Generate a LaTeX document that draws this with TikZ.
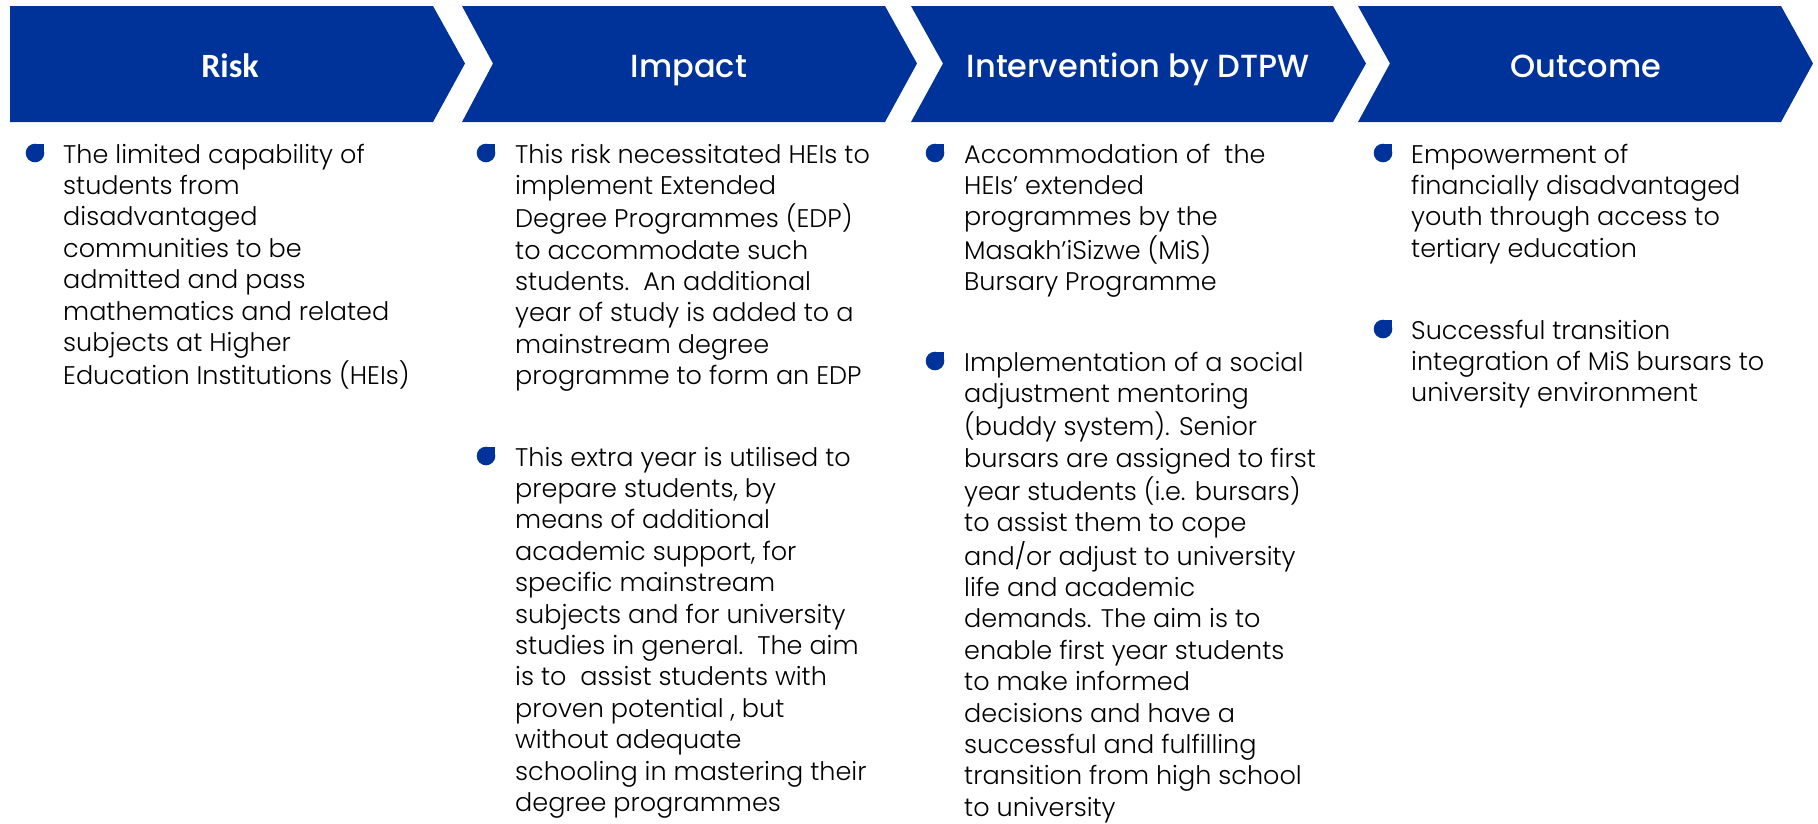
\documentclass[tikz,border=0pt]{standalone}
\usepackage{fontspec}
\setmainfont{Poppins Light}
\newfontfamily\hdrfont{Poppins Medium}
\newfontfamily\riskfont{Carlito}
\definecolor{dblue}{RGB}{0,51,153}
\tikzset{
  chev/.style={fill=dblue, draw=none},
  hdr/.style={text=white, font=\fontsize{32}{38}\selectfont\hdrfont, anchor=base, inner sep=0pt},
  body/.style={anchor=base west, inner sep=0pt, font=\fontsize{25.5}{31.4}\selectfont, text=black},
  bul/.style={fill=dblue, draw=none}
}
\newcommand{\mylines}[1]{\begin{tabular}[t]{@{}l@{}}#1\end{tabular}}
\newcommand{\bulletat}[2]{%
  \fill[bul] (#1+9,#2-10) circle (9.3);
  \fill[bul] (#1+9,#2-19.3) rectangle (#1+18.3,#2-10);}
\begin{document}
\begin{tikzpicture}[x=1pt,y=-1pt]
\useasboundingbox (0,0) rectangle (1818,823);
% chevrons
\fill[chev] (10,6) -- (433,6) -- (465,63.5) -- (433,122) -- (10,122) -- cycle;
\fill[chev] (462,6) -- (885,6) -- (917,63.5) -- (885,122) -- (462,122) -- (493,63.5) -- cycle;
\fill[chev] (911,6) -- (1333,6) -- (1366,63.5) -- (1333,122) -- (911,122) -- (943,63.5) -- cycle;
\fill[chev] (1358,6) -- (1781,6) -- (1813,63.5) -- (1781,122) -- (1358,122) -- (1390,63.5) -- cycle;
% headers
\node[hdr, font=\fontsize{34}{40}\selectfont\riskfont\bfseries] (h1) at (230,77) {Risk};
\node[hdr] (h2) at (689,77) {Impact};
\node[hdr] (h3) at (1138,77) {Intervention by DTPW};
\node[hdr] (h4) at (1586,77) {Outcome};
% column 1
\bulletat{26}{163}
\node[body] (t1) at (63,163) {\mylines{The limited capability of\\students from\\disadvantaged\\communities to be\\admitted and pass\\mathematics and related\\subjects at Higher\\Education Institutions (HEIs)}};
% column 2
\bulletat{477}{163}
\node[body] (t2a) at (515,163) {\mylines{This risk necessitated HEIs to\\implement Extended\\Degree Programmes (EDP)\\to accommodate such\\students.\ \ An additional\\year of study is added to a\\mainstream degree\\programme to form an EDP}};
\bulletat{477}{466}
\node[body] (t2b) at (515,466) {\mylines{This extra year is utilised to\\prepare students, by\\means of additional\\academic support, for\\specific mainstream\\subjects and for university\\studies in general.\ \ The aim\\is to\ \ assist students with\\proven potential , but\\without adequate\\schooling in mastering their\\degree programmes}};
% column 3
\bulletat{926}{163}
\node[body] (t3a) at (964,163) {\mylines{Accommodation of\ \ the\\HEIs’ extended\\programmes by the\\Masakh’iSizwe (MiS)\\Bursary Programme}};
\bulletat{926}{371}
\node[body] (t3b) at (964,371) {\mylines{Implementation of a social\\adjustment mentoring\\(buddy system). Senior\\bursars are assigned to first\\year students (i.e. bursars)\\to assist them to cope\\and/or adjust to university\\life and academic\\demands. The aim is to\\enable first year students\\to make informed\\decisions and have a\\successful and fulfilling\\transition from high school\\to university}};
% column 4
\bulletat{1374}{163}
\node[body] (t4a) at (1411,163) {\mylines{Empowerment of\\financially disadvantaged\\youth through access to\\tertiary education}};
\bulletat{1374}{339}
\node[body] (t4b) at (1411,339) {\mylines{Successful transition\\integration of MiS bursars to\\university environment}};
\end{tikzpicture}
\end{document}
